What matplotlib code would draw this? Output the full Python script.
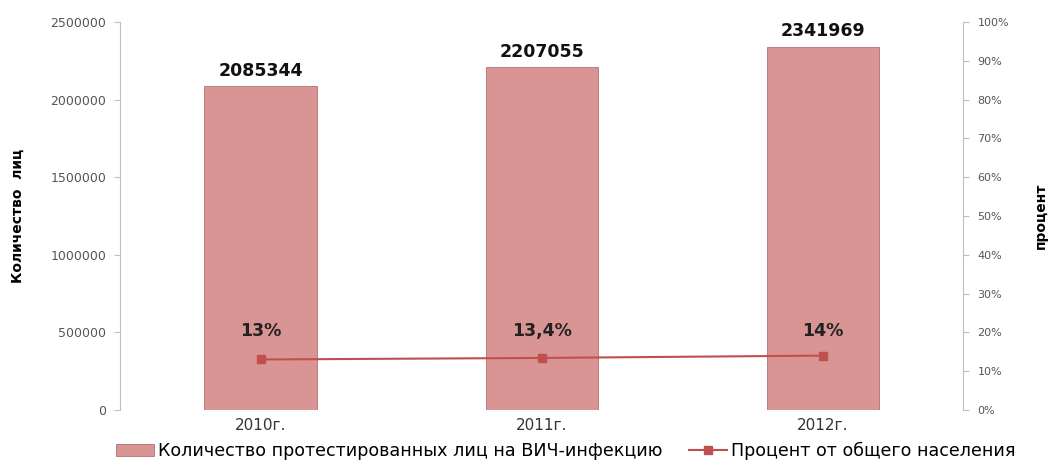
import matplotlib.pyplot as plt
from matplotlib.ticker import FuncFormatter

years = ['2010г.', '2011г.', '2012г.']
tested = [2085344, 2207055, 2341969]
percent = [0.13, 0.134, 0.14]
percent_labels = ['13%', '13,4%', '14%']

bar_name = 'Количество протестированных лиц на ВИЧ-инфекцию'
line_name = 'Процент от общего населения'

bar_color = '#D99594'
line_color = '#C0504D'
tick_color = '#555555'
spine_color = '#BFBFBF'

plt.rcParams['font.family'] = ['DejaVu Sans']

fig = plt.figure(figsize=(10.53, 4.69), dpi=100)
ax = fig.add_axes([0.114, 0.126, 0.801, 0.827])
ax2 = ax.twinx()

x = list(range(len(years)))
bars = ax.bar(x, tested, width=0.4, color=bar_color, edgecolor='#B07070',
              linewidth=0.6, label=bar_name, zorder=2)
ax.set_xlim(-0.5, 2.5)
ax.set_ylim(0, 2500000)
ax.set_yticks(range(0, 2500001, 500000))
ax.yaxis.set_major_formatter(FuncFormatter(lambda v, p: f'{int(v)}'))
ax.set_xticks(x)
ax.set_xticklabels(years, fontsize=11, color='#333333')

for xi, v in zip(x, tested):
    ax.text(xi, v + 40000, str(v), ha='center', va='bottom',
            fontsize=12.5, fontweight='bold', color='#111111')

line, = ax2.plot(x, percent, color=line_color, marker='s', markersize=6,
                 linewidth=1.5, label=line_name, zorder=3)
ax2.set_ylim(0, 1)
ax2.set_yticks([i / 10 for i in range(11)])
ax2.yaxis.set_major_formatter(FuncFormatter(lambda v, p: f'{v:.0%}'))

for xi, v, lab in zip(x, percent, percent_labels):
    ax2.text(xi, 0.18, lab, ha='center', va='bottom',
             fontsize=12.5, fontweight='bold', color='#222222')

for a in (ax, ax2):
    for s in ('top', 'bottom'):
        a.spines[s].set_visible(False)
    a.tick_params(axis='y', labelsize=9, colors=tick_color, length=4,
                  color=spine_color, pad=6)
    a.tick_params(axis='x', length=0, pad=6)
ax.spines['left'].set_color(spine_color)
ax.spines['right'].set_visible(False)
ax2.spines['left'].set_visible(False)
ax2.spines['right'].set_color(spine_color)
ax2.tick_params(axis='y', labelsize=8)

ax.set_ylabel('Количество  лиц', fontsize=10, fontweight='bold')
ax.yaxis.set_label_coords(-0.113, 0.5)
ax2.set_ylabel('процент', fontsize=10, fontweight='bold', rotation=90)
ax2.yaxis.set_label_coords(1.084, 0.5)

fig.legend([bars, line], [bar_name, line_name], loc='lower center',
           bbox_to_anchor=(0.537, -0.015), ncol=2, frameon=False, fontsize=12.6,
           handlelength=2.2, columnspacing=1.5, handletextpad=0.2)

fig.savefig('out.png', dpi=100)
